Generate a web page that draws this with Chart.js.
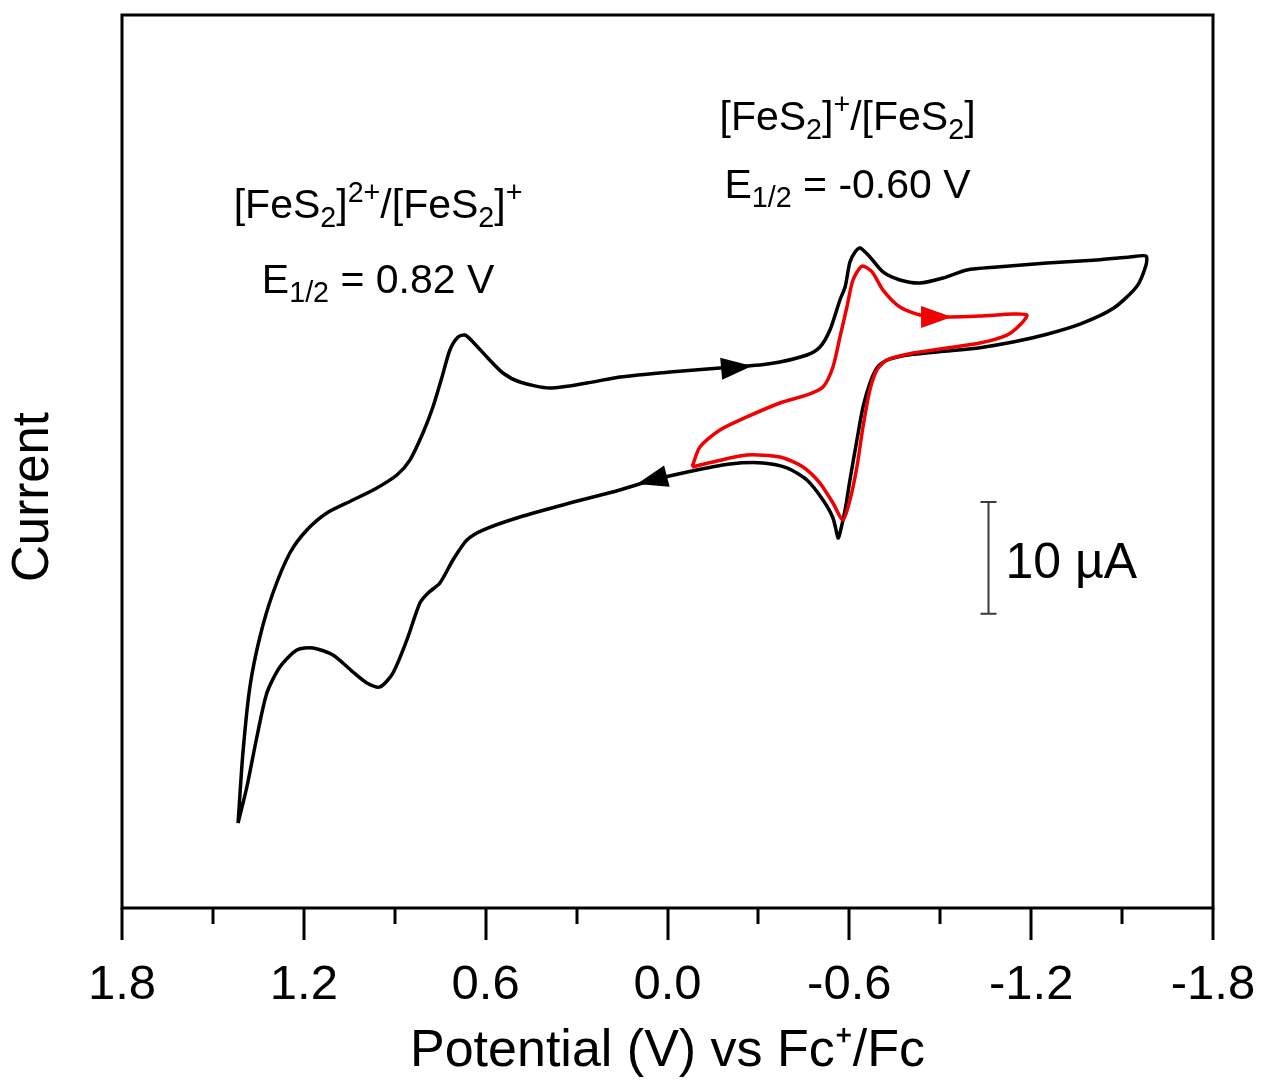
<!DOCTYPE html>
<html>
<head>
<meta charset="utf-8">
<title>Cyclic voltammogram of [FeS2]</title>
<script src="https://cdn.jsdelivr.net/npm/chart.js@4/dist/chart.umd.min.js"></script>
<style>
  html, body { margin: 0; padding: 0; background: #fff; }
  #wrap { width: 1262px; height: 1085px; }
</style>
</head>
<body>
<div id="wrap"><canvas id="cv" width="1262" height="1085"></canvas></div>
<script>
// Wide sweep: potential (V vs Fc+/Fc) and current (µA, arbitrary offset)
const blackPotential = [1.417,1.401,1.378,1.345,1.302,1.246,1.190,1.124,1.038,0.959,0.893,0.850,0.807,0.774,0.744,0.718,0.691,0.668,0.642,0.596,0.543,0.487,0.388,0.266,0.157,-0.008,-0.173,-0.305,-0.371,-0.460,-0.503,-0.536,-0.569,-0.586,-0.602,-0.619,-0.635,-0.668,-0.711,-0.767,-0.833,-0.909,-0.988,-1.087,-1.252,-1.417,-1.526,-1.579,-1.579,-1.549,-1.470,-1.361,-1.252,-1.140,-1.031,-0.922,-0.810,-0.724,-0.691,-0.668,-0.645,-0.625,-0.602,-0.586,-0.569,-0.563,-0.546,-0.513,-0.460,-0.394,-0.315,-0.206,-0.097,0.048,0.157,0.322,0.487,0.609,0.662,0.708,0.751,0.790,0.817,0.860,0.906,0.949,0.992,1.038,1.104,1.170,1.223,1.279,1.322,1.355,1.388,1.417];
const blackCurrent = [-32.39,-26.11,-20.20,-15.72,-11.78,-8.20,-6.14,-4.61,-3.45,-2.37,-1.21,0.13,2.55,4.88,7.57,9.99,11.15,11.33,10.71,9.36,7.93,7.12,6.58,7.03,7.57,8.02,8.38,8.65,8.91,9.54,10.26,11.78,14.47,15.63,17.87,18.77,19.13,18.32,16.98,16.26,15.99,16.44,17.16,17.42,17.78,18.05,18.32,18.41,17.60,15.70,13.70,12.30,11.40,10.70,10.20,9.90,9.60,9.09,8.38,7.03,4.88,1.93,-1.66,-4.34,-6.41,-6.85,-5.06,-3.45,-1.66,-0.58,-0.13,-0.22,-0.76,-1.66,-2.55,-3.72,-4.97,-6.14,-7.03,-8.82,-10.88,-11.78,-12.68,-15.99,-18.95,-20.20,-19.84,-18.86,-17.33,-16.71,-16.89,-18.41,-20.74,-24.68,-29.16,-32.39];

// Narrow sweep around the [FeS2]+/[FeS2] couple
const redPotential = [-0.081,-0.107,-0.173,-0.262,-0.371,-0.460,-0.513,-0.546,-0.569,-0.592,-0.612,-0.642,-0.675,-0.711,-0.767,-0.833,-0.922,-1.031,-1.140,-1.186,-1.163,-1.120,-1.031,-0.922,-0.810,-0.724,-0.691,-0.668,-0.645,-0.625,-0.602,-0.579,-0.546,-0.503,-0.447,-0.371,-0.262,-0.150,-0.081];
const redCurrent = [-0.49,1.30,2.82,3.99,5.24,5.96,6.67,8.47,11.15,13.84,16.26,17.51,16.98,15.36,13.84,13.12,12.95,13.03,13.21,13.12,12.23,11.33,10.62,10.17,9.72,9.09,8.20,6.41,3.09,-0.49,-3.45,-5.24,-3.72,-1.93,-0.49,0.40,0.58,-0.04,-0.49];

// Scan-direction arrows (tail -> head, in data units)
const arrowFromPotential = [-0.167, 0.000, -0.840];
const arrowFromCurrent   = [8.29, -1.30, 12.95];
const arrowToPotential   = [-0.279, 0.101, -0.939];
const arrowToCurrent     = [8.56, -2.02, 12.95];
const arrowColor         = ['#000', '#000', '#f00000'];

// Axis ranges and ticks
const potentialRange = [-1.8, 1.8];
const currentRange = [-40, 40];
const minorStep = 0.3;
const majorEvery = 2;

// Current scale bar
const scaleBarPotential = -1.0575;
const scaleBarTop = -3.63;
const scaleBarSpan = 10;
const scaleBarLabel = '10 µA';

// Redox couple annotations (_{} subscript, ^{} superscript)
const noteText = ['[FeS_{2}]^{2+}/[FeS_{2}]^{+}', 'E_{1/2} = 0.82 V', '[FeS_{2}]^{+}/[FeS_{2}]', 'E_{1/2} = -0.60 V'];
const notePotential = [0.955, 0.955, -0.594, -0.594];
const noteCurrent = [21.81, 15.09, 29.70, 23.61];

const FONT = "'Liberation Sans', Arial, Helvetica, sans-serif";
const RED = '#f00000';

const isMajor = v => Math.abs(Math.round(v / minorStep)) % majorEvery === 0;

function parseRich(s) {
  const parts = [];
  s.split(/(_\{[^}]*\}|\^\{[^}]*\})/).forEach(p => {
    if (!p) return;
    if (p.startsWith('_{')) parts.push({ t: p.slice(2, -1), m: 'sub' });
    else if (p.startsWith('^{')) parts.push({ t: p.slice(2, -1), m: 'sup' });
    else parts.push({ t: p, m: '' });
  });
  return parts;
}

function drawRich(ctx, s, cx, baseY, size) {
  const parts = parseRich(s);
  const small = size * 0.7;
  let w = 0;
  parts.forEach(p => {
    ctx.font = (p.m ? small : size) + 'px ' + FONT;
    p.w = ctx.measureText(p.t).width;
    w += p.w;
  });
  let x = cx - w / 2;
  ctx.textAlign = 'left';
  ctx.textBaseline = 'alphabetic';
  parts.forEach(p => {
    ctx.font = (p.m ? small : size) + 'px ' + FONT;
    const dy = p.m === 'sub' ? size * 0.22 : (p.m === 'sup' ? -size * 0.38 : 0);
    ctx.fillText(p.t, x, baseY + dy);
    x += p.w;
  });
}

const decor = {
  id: 'cvDecor',
  afterDraw(chart) {
    const { ctx, chartArea: ca, scales: { x: xs, y: ys } } = chart;
    ctx.save();
    ctx.fillStyle = '#000';
    ctx.strokeStyle = '#000';

    // frame
    ctx.lineWidth = 3;
    ctx.strokeRect(ca.left, ca.top, ca.right - ca.left, ca.bottom - ca.top);

    // outward tick marks on the potential axis
    xs.ticks.forEach(t => {
      const px = Math.round(xs.getPixelForValue(t.value));
      ctx.beginPath();
      ctx.moveTo(px, ca.bottom);
      ctx.lineTo(px, ca.bottom + (isMajor(t.value) ? 32 : 16));
      ctx.stroke();
    });

    // scan arrows
    arrowFromPotential.forEach((e0, i) => {
      const x0 = xs.getPixelForValue(e0), y0 = ys.getPixelForValue(arrowFromCurrent[i]);
      const x1 = xs.getPixelForValue(arrowToPotential[i]), y1 = ys.getPixelForValue(arrowToCurrent[i]);
      const a = Math.atan2(y1 - y0, x1 - x0);
      const L = 31, H = 11;
      ctx.save();
      ctx.translate(x1, y1);
      ctx.rotate(a);
      ctx.fillStyle = arrowColor[i];
      ctx.beginPath();
      ctx.moveTo(0, 0);
      ctx.lineTo(-L, -H);
      ctx.lineTo(-L, H);
      ctx.closePath();
      ctx.fill();
      ctx.restore();
    });

    // 10 µA scale bar
    const bx = Math.round(xs.getPixelForValue(scaleBarPotential)) + 0.5;
    const by0 = ys.getPixelForValue(scaleBarTop);
    const by1 = ys.getPixelForValue(scaleBarTop - scaleBarSpan);
    ctx.strokeStyle = '#3a3a3a';
    ctx.lineWidth = 2;
    ctx.beginPath();
    ctx.moveTo(bx, by0); ctx.lineTo(bx, by1);
    ctx.moveTo(bx - 8, by0); ctx.lineTo(bx + 8, by0);
    ctx.moveTo(bx - 8, by1); ctx.lineTo(bx + 8, by1);
    ctx.stroke();
    ctx.fillStyle = '#000';
    ctx.font = '50px ' + FONT;
    ctx.textAlign = 'left';
    ctx.textBaseline = 'alphabetic';
    ctx.fillText(scaleBarLabel, bx + 17, (by0 + by1) / 2 + 20);

    // couple labels
    noteText.forEach((s, i) => {
      drawRich(ctx, s, xs.getPixelForValue(notePotential[i]), ys.getPixelForValue(noteCurrent[i]), 41);
    });

    // vertical axis label
    ctx.save();
    ctx.translate(34, 497);
    ctx.rotate(-Math.PI / 2);
    ctx.font = '51px ' + FONT;
    ctx.textAlign = 'center';
    ctx.textBaseline = 'middle';
    ctx.fillText('Current', 0, 0);
    ctx.restore();

    ctx.restore();
  }
};

const toPoints = (xsArr, ysArr) => xsArr.map((v, i) => ({ x: v, y: ysArr[i] }));

new Chart(document.getElementById('cv'), {
  type: 'scatter',
  data: {
    datasets: [
      {
        label: 'Wide sweep',
        data: toPoints(blackPotential, blackCurrent),
        showLine: true,
        borderColor: '#000',
        borderWidth: 3.5,
        pointRadius: 0,
        tension: 0.25,
        order: 1
      },
      {
        label: 'Narrow sweep',
        data: toPoints(redPotential, redCurrent),
        showLine: true,
        borderColor: RED,
        borderWidth: 3.5,
        pointRadius: 0,
        tension: 0.25,
        order: 0
      }
    ]
  },
  options: {
    responsive: false,
    animation: false,
    devicePixelRatio: 1,
    layout: { padding: { left: 122, right: 49, top: 15, bottom: 0 } },
    plugins: { legend: { display: false }, tooltip: { enabled: false } },
    scales: {
      x: {
        type: 'linear',
        position: 'bottom',
        reverse: true,
        min: potentialRange[0],
        max: potentialRange[1],
        afterFit(scale) {
          scale.height = 177;
          scale.paddingLeft = 0;
          scale.paddingRight = 0;
        },
        border: { display: false },
        grid: { display: true, drawOnChartArea: false, drawTicks: true, tickLength: 32, tickColor: 'rgba(0,0,0,0)' },
        ticks: {
          stepSize: minorStep,
          autoSkip: false,
          maxRotation: 0,
          padding: 16,
          color: '#000',
          font: { family: FONT, size: 49 },
          callback: v => (isMajor(v) ? (Math.abs(v) < 1e-9 ? 0 : v).toFixed(1) : '')
        },
        title: {
          display: true,
          text: 'Potential (V) vs Fc\u207A/Fc',
          color: '#000',
          font: { family: FONT, size: 52 },
          padding: { top: 0, bottom: 2 }
        }
      },
      y: {
        type: 'linear',
        display: false,
        min: currentRange[0],
        max: currentRange[1]
      }
    }
  },
  plugins: [decor]
});
</script>
</body>
</html>
